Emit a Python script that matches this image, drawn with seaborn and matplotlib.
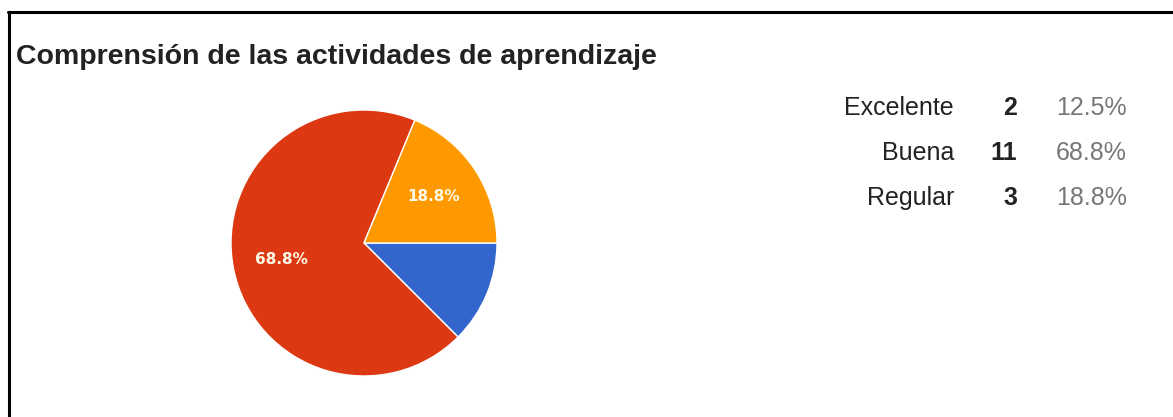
import matplotlib
matplotlib.use('Agg')
import matplotlib.pyplot as plt
import seaborn as sns
from matplotlib.lines import Line2D

# data
title = 'Comprensión de las actividades de aprendizaje'
categories = ['Excelente', 'Buena', 'Regular']
counts = [2, 11, 3]
pct_labels = ['12.5%', '68.8%', '18.8%']
colors = ['#3366CC', '#DC3912', '#FF9900']

W, H = 1173, 417
sns.set_theme(style='white')
plt.rcParams['font.family'] = ['Liberation Sans', 'DejaVu Sans']

fig = plt.figure(figsize=(W / 100, H / 100), dpi=100)
fig.patch.set_facecolor('white')

# frame: top and left edges only
fig.add_artist(Line2D([8 / W, 1], [1 - 12 / H, 1 - 12 / H], color='black', lw=2.2))
fig.add_artist(Line2D([9 / W, 9 / W], [0, 1 - 12 / H], color='black', lw=2.2))

fig.text(16 / W, 1 - 64 / H, title, fontsize=20.5, fontweight='bold', color='#222222',
         ha='left', va='baseline')

# pie centred at (364, 243) px, radius 133 px
cx, cy, r = 364, 243, 133
ax = fig.add_axes([(cx - r) / W, (H - cy - r) / H, 2 * r / W, 2 * r / H])
wedges, texts, autotexts = ax.pie(
    counts, colors=colors, startangle=0, counterclock=False,
    autopct=lambda p: f'{p:.1f}%' if p > 15 else '',
    pctdistance=0.63, radius=1,
    wedgeprops=dict(edgecolor='white', linewidth=1),
    textprops=dict(color='#fffbe8', fontsize=11, fontweight='bold', family='DejaVu Sans'))
ax.set_xlim(-1, 1)
ax.set_ylim(-1, 1)
ax.set_aspect('equal')
ax.axis('off')

# legend table on the right
row_y = [115, 160, 205]
for name, n, pct, y in zip(categories, counts, pct_labels, row_y):
    fy = 1 - y / H
    fig.text(954 / W, fy, name, fontsize=18, color='#222222', ha='right', va='baseline')
    fig.text(1017 / W, fy, str(n), fontsize=18, fontweight='bold', color='#222222',
             ha='right', va='baseline')
    fig.text(1127 / W, fy, pct, fontsize=18, color='#777777', ha='right', va='baseline')

fig.savefig('out.png', dpi=100, facecolor='white')
